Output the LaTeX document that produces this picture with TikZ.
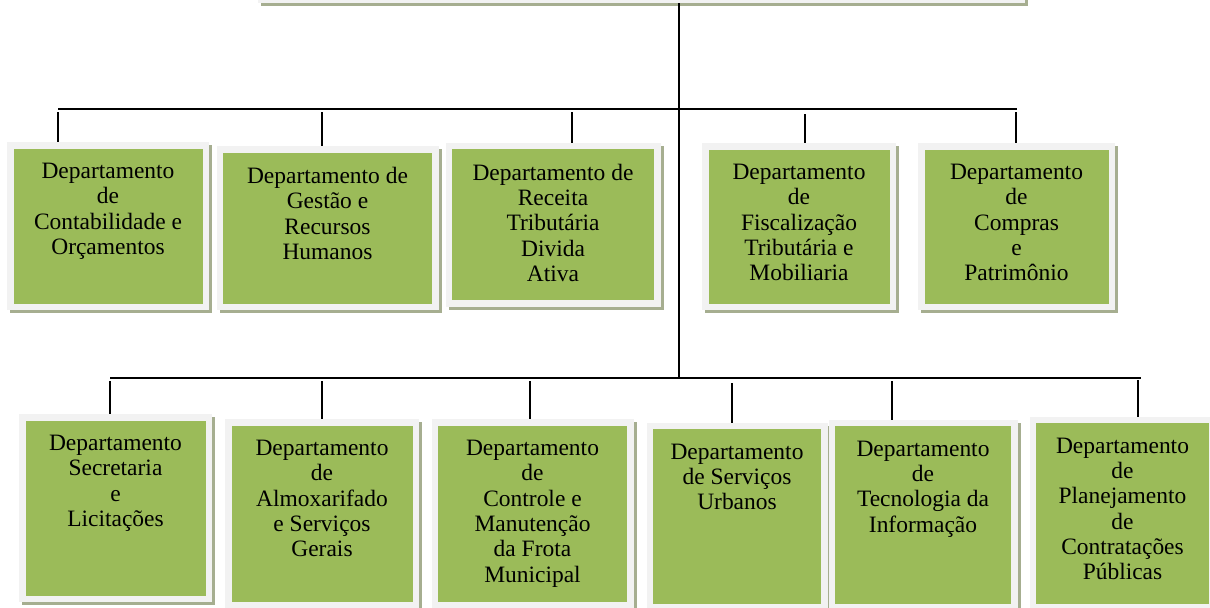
\documentclass[tikz,border=0pt]{standalone}
\usepackage{fontspec}
\setmainfont{Liberation Serif}
\newlength\pxu
\setlength\pxu{0.75pt}
\definecolor{deptgreen}{RGB}{155,187,89}
\definecolor{deptframe}{RGB}{242,242,242}
\definecolor{deptshadow}{RGB}{166,174,144}
\tikzset{
  deptbox/.style={draw=deptframe, fill=deptgreen, line width=6.5\pxu, inner sep=0pt,
    preaction={draw=deptshadow, fill=deptshadow, transform canvas={shift={(3\pxu,-3\pxu)}}}},
  depttext/.style={inner sep=0pt, align=center, anchor=north, font=\fontsize{17.6}{19}\selectfont},
  bus/.style={line width=1.5pt},
  drop/.style={line width=1.1pt}
}

\begin{document}
\begin{tikzpicture}[x=\pxu, y=-\pxu]
\clip (0,0) rectangle (1210,607);
%% caixa de cima (cortada)
\node[deptbox, minimum width=760.5\pxu, minimum height=100\pxu] (root) at (641.5,-50.25) {};
%% primeira fila
\node[deptbox, minimum width=195.5\pxu, minimum height=161.5\pxu] (contab) at (108,226) {};
\node[deptbox, minimum width=215.5\pxu, minimum height=157.5\pxu] (gestao) at (327.5,228) {};
\node[deptbox, minimum width=208.5\pxu, minimum height=157.5\pxu] (receita) at (553,224.5) {};
\node[deptbox, minimum width=187.5\pxu, minimum height=160.5\pxu] (fiscal) at (799,226.5) {};
\node[deptbox, minimum width=190.5\pxu, minimum height=160.5\pxu] (compras) at (1016.5,226.5) {};
%% segunda fila
\node[deptbox, minimum width=186.5\pxu, minimum height=181.5\pxu] (secret) at (115.5,508) {};
\node[deptbox, minimum width=187.5\pxu, minimum height=183\pxu] (almox) at (322,513.75) {};
\node[deptbox, minimum width=195.5\pxu, minimum height=183\pxu] (frota) at (532.5,513.75) {};
\node[deptbox, minimum width=174.5\pxu, minimum height=181.5\pxu] (urbanos) at (737,516.5) {};
\node[deptbox, minimum width=182.5\pxu, minimum height=184.5\pxu] (tecno) at (923,515) {};
\node[deptbox, minimum width=179.5\pxu, minimum height=187.5\pxu] (planej) at (1122.5,513.5) {};

%% textos
\node[depttext] (contab-txt) at ([yshift=-21\pxu]contab.north) {Departamento\\de\\Contabilidade e\\Orçamentos};
\node[depttext] (gestao-txt) at ([yshift=-21\pxu]gestao.north) {Departamento de\\Gestão e\\Recursos\\Humanos};
\node[depttext] (receita-txt) at ([yshift=-21\pxu]receita.north) {Departamento de\\Receita\\Tributária\\Divida\\Ativa};
\node[depttext] (fiscal-txt) at ([yshift=-21\pxu]fiscal.north) {Departamento\\de\\Fiscalização\\Tributária e\\Mobiliaria};
\node[depttext] (compras-txt) at ([yshift=-21\pxu]compras.north) {Departamento\\de\\Compras\\e\\Patrimônio};
\node[depttext] (secret-txt) at ([yshift=-21\pxu]secret.north) {Departamento\\Secretaria\\e\\Licitações};
\node[depttext] (almox-txt) at ([yshift=-21\pxu]almox.north) {Departamento\\de\\Almoxarifado\\e Serviços\\Gerais};
\node[depttext] (frota-txt) at ([yshift=-21\pxu]frota.north) {Departamento\\de\\Controle e\\Manutenção\\da Frota\\Municipal};
\node[depttext] (urbanos-txt) at ([yshift=-21\pxu]urbanos.north) {Departamento\\de Serviços\\Urbanos};
\node[depttext] (tecno-txt) at ([yshift=-21\pxu]tecno.north) {Departamento\\de\\Tecnologia da\\Informação};
\node[depttext] (planej-txt) at ([yshift=-21\pxu]planej.north) {Departamento\\de\\Planejamento\\de\\Contratações\\Públicas};

%% tronco e barramentos
\coordinate (hub1) at (679,109);
\coordinate (hub2) at (679,378);
\draw[bus] (root.south -| hub1) -- (hub2);
\coordinate (d1) at (58,112);
\coordinate (d2) at (322,112);
\coordinate (d3) at (572,112);
\coordinate (d4) at (805,114);
\coordinate (d5) at (1016,112);
\draw[bus] (d1 |- hub1) -- ([xshift=1]d5 |- hub1);
\draw[drop] (d1) -- (d1 |- contab.north);
\draw[drop] (d2) -- (d2 |- gestao.north);
\draw[drop] (d3) -- (d3 |- receita.north);
\draw[drop] (d4) -- (d4 |- fiscal.north);
\draw[drop] (d5) -- (d5 |- compras.north);
%% segunda fila
\coordinate (e1) at (110,381);
\coordinate (e2) at (322,381);
\coordinate (e3) at (530,381);
\coordinate (e4) at (732,383);
\coordinate (e5) at (892,381);
\coordinate (e6) at (1138,380);
\draw[bus] (e1 |- hub2) -- ([xshift=2]e6 |- hub2);
\draw[drop] (e1) -- (e1 |- secret.north);
\draw[drop] (e2) -- (e2 |- almox.north);
\draw[drop] (e3) -- (e3 |- frota.north);
\draw[drop] (e4) -- (e4 |- urbanos.north);
\draw[drop] (e5) -- (e5 |- tecno.north);
\draw[drop] (e6) -- (e6 |- planej.north);
\end{tikzpicture}
\end{document}
